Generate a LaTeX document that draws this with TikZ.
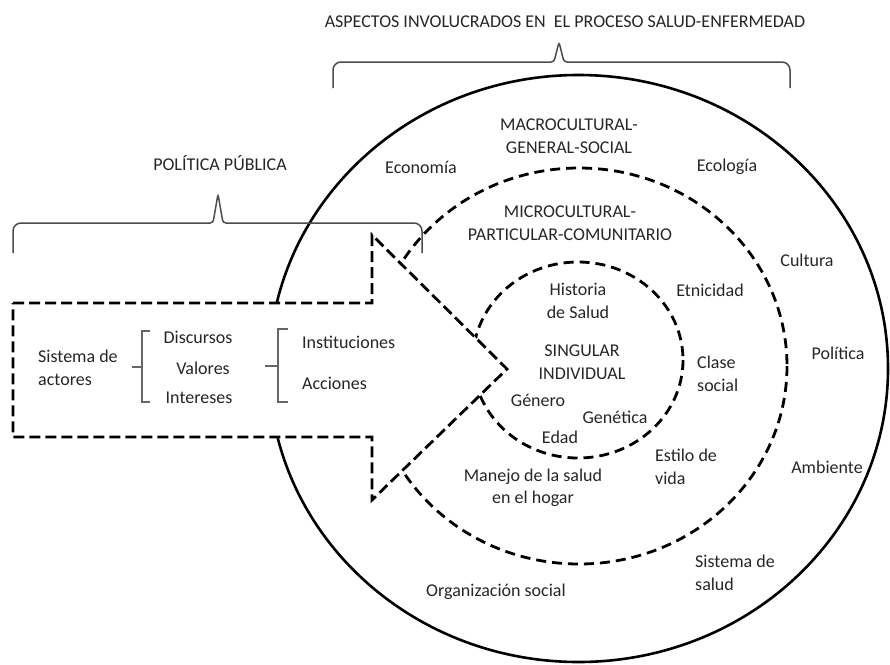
\documentclass[tikz,border=0pt]{standalone}
\usepackage{fontspec}
\setmainfont{Carlito}

\begin{document}
\begin{tikzpicture}[
    x=1pt, y=-1pt,
    lbl/.style={inner sep=0pt, align=center, text=black!85, font=\fontsize{18}{22.5}\selectfont},
    lblleft/.style={lbl, align=left, anchor=west},
    ring/.style={draw, line width=2.6pt},
    dashring/.style={draw, line width=2.8pt, dash pattern=on 10pt off 6pt},
    arrowline/.style={draw, fill=white, line width=2.8pt, dash pattern=on 11pt off 5pt},
    brc/.style={draw=black!70, line width=1.5pt},
    tick/.style={draw=black!60, line width=1.2pt}
  ]
    \useasboundingbox (0,0) rectangle (890,664);
    % rings
    \draw[ring] (578.5,368.5) ellipse [x radius=309.5, y radius=293.5];
    \draw[dashring] (579,366) ellipse [x radius=208, y radius=198];
    \draw[dashring] (578,360) ellipse [x radius=105, y radius=98];
    % policy arrow
    \draw[arrowline] (13,303) -- (372,303) -- (372,235) -- (507,369) -- (372,500) -- (372,437) -- (13,437) -- cycle;
    % braces
    \draw[brc] (333,88) [rounded corners=8pt] -- (333,62) [rounded corners=3pt] -- (554,62) -- (559,42) -- (564,62) [rounded corners=8pt] -- (790,62) -- (790,88);
    \draw[brc] (13,253) [rounded corners=8pt] -- (13,223) [rounded corners=3pt] -- (213,223) -- (218,194) -- (223,223) [rounded corners=8pt] -- (422,223) -- (422,253);
    \node[lbl] (aspectos) at (565,22) {ASPECTOS INVOLUCRADOS EN\ \ EL PROCESO SALUD-ENFERMEDAD};
    \node[lbl] (politica) at (220,163) {POLÍTICA PÚBLICA};
    % outer ring
    \node[lbl] (macro) at (569,136) {MACROCULTURAL-\\GENERAL-SOCIAL};
    \node[lbl] (economia) at (421,167) {Economía};
    \node[lbl] (ecologia) at (727,167) {Ecología};
    \node[lbl] (cultura) at (807,260) {Cultura};
    \node[lbl] (pol) at (838,353) {Política};
    \node[lbl] (ambiente) at (827,467) {Ambiente};
    \node[lblleft] (sissalud) at (695,573) {Sistema de\\salud};
    \node[lbl] (organiz) at (496,592) {Organización social};
    % middle ring
    \node[lbl] (micro) at (570,223) {MICROCULTURAL-\\PARTICULAR-COMUNITARIO};
    \node[lbl] (etnia) at (710,290) {Etnicidad};
    \node[lblleft] (clase) at (697,374) {Clase\\social};
    \node[lblleft] (estilo) at (655,467) {Estilo de\\vida};
    \node[lbl] (manejo) at (533,488) {Manejo de la salud\\en el hogar};
    % inner ring
    \node[lbl] (historia) at (578,301) {Historia\\de Salud};
    \node[lbl] (singular) at (582,362) {SINGULAR\\INDIVIDUAL};
    \node[lbl] (genero) at (538,400) {Género};
    \node[lbl] (genetica) at (615,417) {Genética};
    \node[lbl] (edad) at (560,437) {Edad};
    % inside the arrow
    \node[lblleft] (actores) at (38,368) {Sistema de\\actores};
    \node[lbl] (discursos) at (198,337) {Discursos};
    \node[lbl] (valores) at (203,368) {Valores};
    \node[lbl] (intereses) at (199,398) {Intereses};
    \node[lblleft] (instit) at (302,342) {Instituciones};
    \node[lblleft] (acciones) at (302,383) {Acciones};
    \draw[tick] (150,331) -- (142,331) -- (142,402) -- (150,402);
    \draw[tick] (132,367) -- (142,367);
    \draw[tick] (288,329) -- (278,329) -- (278,402) -- (288,402);
    \draw[tick] (265,366) -- (278,366);
  \end{tikzpicture}
\end{document}
